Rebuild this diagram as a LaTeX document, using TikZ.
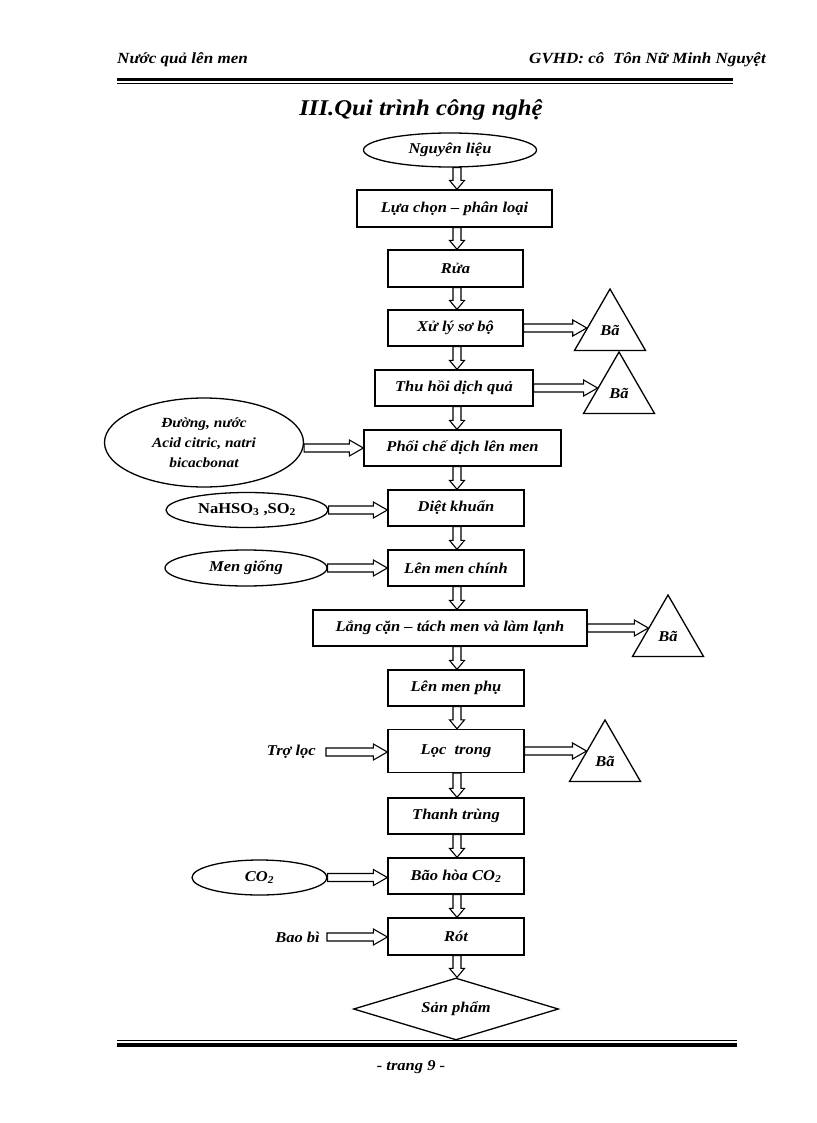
\documentclass[tikz,border=0pt]{standalone}
\usepackage{fontspec}
\setmainfont{Liberation Serif}[FakeStretch=1.1]
\usetikzlibrary{shapes.geometric,calc}
\tikzset{
  txt/.style={font=\fontsize{15}{17}\selectfont\bfseries\itshape},
  box/.style={txt, draw, line width=1.3pt, rectangle, minimum height=36pt, inner sep=0pt, align=center},
  oval/.style={txt, draw, line width=1.3pt, ellipse, inner sep=0pt, align=center},
  tri/.style={txt, draw, line width=1.3pt, regular polygon, regular polygon sides=3, minimum size=82pt, inner sep=0pt},
  dia/.style={txt, draw, line width=1.3pt, diamond, aspect=3.3, inner sep=0pt, minimum width=205pt, minimum height=62pt},
  vblk/.style={draw, line width=1.1pt, line join=miter, to path={let \p1=(\tikztostart), \p2=(\tikztotarget) in
     (\x1-4pt,\y1) -- (\x1-4pt,\y2+9pt) -- (\x1-7.5pt,\y2+9pt) -- (\x1,\y2) -- (\x1+7.5pt,\y2+9pt) -- (\x1+4pt,\y2+9pt) -- (\x1+4pt,\y1) -- cycle}},
  hblk/.style={draw, line width=1.1pt, line join=miter, to path={let \p1=(\tikztostart), \p2=(\tikztotarget) in
     (\x1,\y1+4pt) -- (\x2-14pt,\y1+4pt) -- (\x2-14pt,\y1+8pt) -- (\x2,\y1) -- (\x2-14pt,\y1-8pt) -- (\x2-14pt,\y1-4pt) -- (\x1,\y1-4pt) -- cycle}},
  rule/.style={line cap=butt}
}
\begin{document}
\begin{tikzpicture}[x=1pt,y=-1pt]
\useasboundingbox (0,0) rectangle (816,1123);
% header
\node[txt, font=\fontsize{15.5}{17}\selectfont\bfseries\itshape, anchor=west, inner sep=0pt] (hl) at (117,60) {Nước quả lên men};
\node[txt, font=\fontsize{15.5}{17}\selectfont\bfseries\itshape, anchor=east, inner sep=0pt] (hr) at (766,60) {GVHD: cô\ \ Tôn Nữ Minh Nguyệt};
\draw[rule, line width=3.5pt] (117,79.5) coordinate (h1) -- (733,79.5) coordinate (h2);
\draw[rule, line width=1pt] (117,83.6) coordinate (h3) -- (733,83.6) coordinate (h4);
% title
\node[font=\fontsize{22.5}{26}\selectfont\bfseries\itshape, inner sep=0pt] (title) at (421,110) {III.Qui trình công nghệ};
% column for main arrows
\coordinate (col) at (457,0);
% main chain
\node[oval, minimum width=173pt, minimum height=34pt] (n0) at (450,150) {Nguyên liệu};
\node[box, minimum width=195pt, minimum height=37pt] (n1) at (454.5,208.5) {Lựa chọn – phân loại};
\node[box, minimum width=135pt, minimum height=37pt] (n2) at (455.5,268.5) {Rửa};
\node[box, minimum width=135pt] (n3) at (455.5,328) {Xử lý sơ bộ};
\node[box, minimum width=158pt] (n4) at (454,388) {Thu hồi dịch quả};
\node[box, minimum width=197pt] (n5) at (462.5,448) {Phối chế dịch lên men};
\node[box, minimum width=136pt] (n6) at (456,508) {Diệt khuẩn};
\node[box, minimum width=136pt] (n7) at (456,568) {Lên men chính};
\node[box, minimum width=274pt] (n8) at (450,628) {Lắng cặn – tách men và làm lạnh};
\node[box, minimum width=136pt] (n9) at (456,688) {Lên men phụ};
\node[box, minimum width=136pt, minimum height=43pt] (n10) at (456,751) {Lọc\ \ trong};
\node[box, minimum width=136pt] (n11) at (456,816) {Thanh trùng};
\node[box, minimum width=136pt] (n12) at (456,876) {Bão hòa CO\textsubscript{2}};
\node[box, minimum width=136pt, minimum height=37pt] (n13) at (456,936.5) {Rót};
\node[dia] (n14) at (456,1009) {Sản phẩm};
% vertical arrows
\draw[vblk] (n0.south -| col) to (n1.north -| col);
\draw[vblk] (n1.south -| col) to (n2.north -| col);
\draw[vblk] (n2.south -| col) to (n3.north -| col);
\draw[vblk] (n3.south -| col) to (n4.north -| col);
\draw[vblk] (n4.south -| col) to (n5.north -| col);
\draw[vblk] (n5.south -| col) to (n6.north -| col);
\draw[vblk] (n6.south -| col) to (n7.north -| col);
\draw[vblk] (n7.south -| col) to (n8.north -| col);
\draw[vblk] (n8.south -| col) to (n9.north -| col);
\draw[vblk] (n9.south -| col) to (n10.north -| col);
\draw[vblk] (n10.south -| col) to (n11.north -| col);
\draw[vblk] (n11.south -| col) to (n12.north -| col);
\draw[vblk] (n12.south -| col) to (n13.north -| col);
\draw[vblk] (n13.south -| col) to (n14.north -| col);
% waste triangles
\node[tri] (t1) at (610,330) {Bã};
\node[tri] (t2) at (619,393) {Bã};
\node[tri] (t3) at (668,636) {Bã};
\node[tri] (t4) at (605,761) {Bã};
\draw[hblk] (n3.east) to ($(t1.corner 1)!0.634!(t1.corner 2)$);
\draw[hblk] (n4.east) to ($(t2.corner 1)!0.585!(t2.corner 2)$);
\draw[hblk] (n8.east) to ($(t3.corner 1)!0.537!(t3.corner 2)$);
\draw[hblk] (n10.east) to ($(t4.corner 1)!0.504!(t4.corner 2)$);
% inputs
\node[oval, font=\fontsize{14}{20}\selectfont\bfseries\itshape, minimum width=199pt, minimum height=89pt] (e1) at (204,442.5) {Đường, nước\\Acid citric, natri\\bicacbonat};
\node[oval, font=\fontsize{15}{17}\selectfont\bfseries, minimum width=162pt, minimum height=35pt] (e2) at (247,510) {NaHSO\textsubscript{3} ,SO\textsubscript{2}};
\node[oval, minimum width=162pt, minimum height=36pt] (e3) at (246,568) {Men giống};
\node[oval, minimum width=135pt, minimum height=35pt] (e4) at (259.5,877.5) {CO\textsubscript{2}};
\node[txt, anchor=east, inner sep=0pt] (tl) at (316,752) {Trợ lọc};
\node[txt, anchor=east, inner sep=0pt] (bb) at (320,937) {Bao bì};
\draw[hblk] (e1.east |- n5.west) to (n5.west);
\draw[hblk] (e2.east) to (n6.west);
\draw[hblk] (e3.east) to (n7.west);
\draw[hblk] (e4.east) to (n12.west);
\draw[hblk] ([xshift=10pt]tl.east) to (n10.west);
\draw[hblk] ([xshift=7pt]bb.east) to (n13.west);
% footer
\draw[rule, line width=1.2pt] (117,1040.3) coordinate (f1) -- (737,1040.3) coordinate (f2);
\draw[rule, line width=4.5pt] (117,1044.8) coordinate (f3) -- (737,1044.8) coordinate (f4);
\node[font=\fontsize{15}{17}\selectfont\bfseries\itshape, inner sep=0pt] (pg) at (411,1067) {- trang 9 -};
\end{tikzpicture}
\end{document}
